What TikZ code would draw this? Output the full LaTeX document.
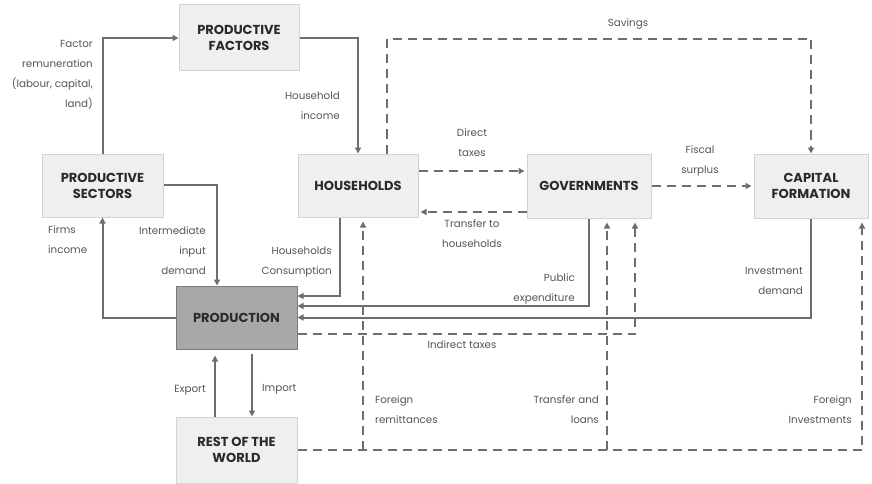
\documentclass[tikz,border=0pt]{standalone}
\usepackage{fontspec}
\setmainfont{Poppins}
\usetikzlibrary{arrows.meta,calc}
\definecolor{ln}{HTML}{6E6E6E}
\definecolor{bx}{HTML}{EFEFEF}
\definecolor{bxd}{HTML}{D2D2D2}
\definecolor{pr}{HTML}{A8A8A8}
\definecolor{prd}{HTML}{7A7A7A}
\definecolor{lb}{HTML}{555555}
\definecolor{tt}{HTML}{2A2A2A}
\tikzset{
  box/.style={draw=bxd,fill=bx,line width=1pt,minimum width=120pt,minimum height=64pt,align=center,inner sep=0pt,text=tt,font=\fontsize{13}{16}\selectfont\bfseries},
  prodbox/.style={box,fill=pr,draw=prd},
  arr/.style={draw=ln,line width=2pt,-{Triangle[length=6pt,width=6pt]}},
  darr/.style={arr,line width=2.3pt,dash pattern=on 9pt off 6pt},
  lbl/.style={text=lb,inner sep=0pt,font=\fontsize{10.3}{20}\selectfont},
}
\begin{document}
\begin{tikzpicture}[x=1pt,y=-1pt]
\useasboundingbox (0,0) rectangle (872,484);
% boxes
\node[box,minimum width=120pt,minimum height=66pt] (fac) at (239,38) {PRODUCTIVE\\FACTORS};
\node[box,minimum width=121pt,minimum height=63pt] (sec) at (102.5,185.5) {PRODUCTIVE\\SECTORS};
\node[box,minimum width=120pt,minimum height=63pt] (hh) at (358,185.5) {HOUSEHOLDS};
\node[box,minimum width=124pt,minimum height=64pt] (gov) at (589,186) {GOVERNMENTS};
\node[box,minimum width=114pt,minimum height=64pt] (cap) at (811,186) {CAPITAL\\FORMATION};
\node[prodbox,minimum width=121pt,minimum height=63pt] (prod) at (236.5,317.5) {PRODUCTION};
\node[box,minimum width=121pt,minimum height=66pt] (row) at (236.5,450) {REST OF THE\\WORLD};
% helper coordinates
\coordinate (sv) at (387,39);
\coordinate (dt) at (0,171);
\coordinate (tr) at (0,212);
\coordinate (im) at (217,185);
\coordinate (hc) at (340,296);
\coordinate (pe) at (0,306);
\coordinate (it) at (635,334);
\coordinate (fr) at (363,0);
\coordinate (tl) at (607,0);
\coordinate (fi) at (862,0);
\coordinate (ex) at (215,0);
\coordinate (ip) at (252,0);
% solid flows
\draw[arr] (sec.north) |- (fac.west);
\draw[arr] (fac.east) -| (hh.north);
\draw[arr] (sec.east |- im) -| (prod.north -| im);
\draw[arr] (prod.west) -| (sec.south);
\draw[arr] (hh.south -| hc) |- (prod.east |- hc);
\draw[arr] (gov.south) |- (prod.east |- pe);
\draw[arr] (cap.south) |- (prod.east);
\draw[arr,shorten >=6pt] (row.north -| ex) -- (prod.south -| ex);
\draw[arr,shorten <=4pt] (prod.south -| ip) -- (row.north -| ip);
% dashed flows
\draw[darr] (hh.north -| sv) -- (sv) -| (cap.north);
\draw[darr,shorten >=2pt] (hh.east |- dt) -- (gov.west |- dt);
\draw[darr,shorten >=2pt] (gov.west |- tr) -- (hh.east |- tr);
\draw[darr,shorten >=2pt] (gov.east) -- (cap.west);
\draw[darr,shorten >=4pt] (prod.east |- it) -| (gov.south -| it);
\draw[darr,shorten >=4pt] (row.east) -| (cap.south -| fi);
\draw[darr,shorten >=4pt] (row.east -| fr) -- (hh.south -| fr);
\draw[darr,shorten >=4pt] (row.east -| tl) -- (gov.south -| tl);
% labels
\node[lbl,align=right,anchor=north east] (l1) at (93,40) {Factor\\remuneration\\(labour, capital,\\land)};
\node[lbl,align=right,anchor=north east] (l2) at (340,92) {Household\\income};
\node[lbl,anchor=north] (l3) at (628,18) {Savings};
\node[lbl,align=center,anchor=north] (l4) at (472,128) {Direct\\taxes};
\node[lbl,align=center,anchor=north] (l5) at (700,145) {Fiscal\\surplus};
\node[lbl,align=left,anchor=north west] (l6) at (48,225) {Firms\\income};
\node[lbl,align=right,anchor=north east] (l7) at (206,226) {Intermediate\\input\\demand};
\node[lbl,align=right,anchor=north east] (l8) at (332,247) {Households\\Consumption};
\node[lbl,align=center,anchor=north] (l9) at (472,219) {Transfer to\\households};
\node[lbl,align=right,anchor=north east] (l10) at (575,273) {Public\\expenditure};
\node[lbl,align=right,anchor=north east] (l11) at (803,267) {Investment\\demand};
\node[lbl,anchor=north] (l12) at (462,340) {Indirect taxes};
\node[lbl,anchor=north east] (l13) at (206,385) {Export};
\node[lbl,anchor=north west] (l14) at (262,384) {Import};
\node[lbl,align=left,anchor=north west] (l15) at (375,395) {Foreign\\remittances};
\node[lbl,align=right,anchor=north east] (l16) at (599,395) {Transfer and\\loans};
\node[lbl,align=right,anchor=north east] (l17) at (852,395) {Foreign\\Investments};
\end{tikzpicture}
\end{document}
